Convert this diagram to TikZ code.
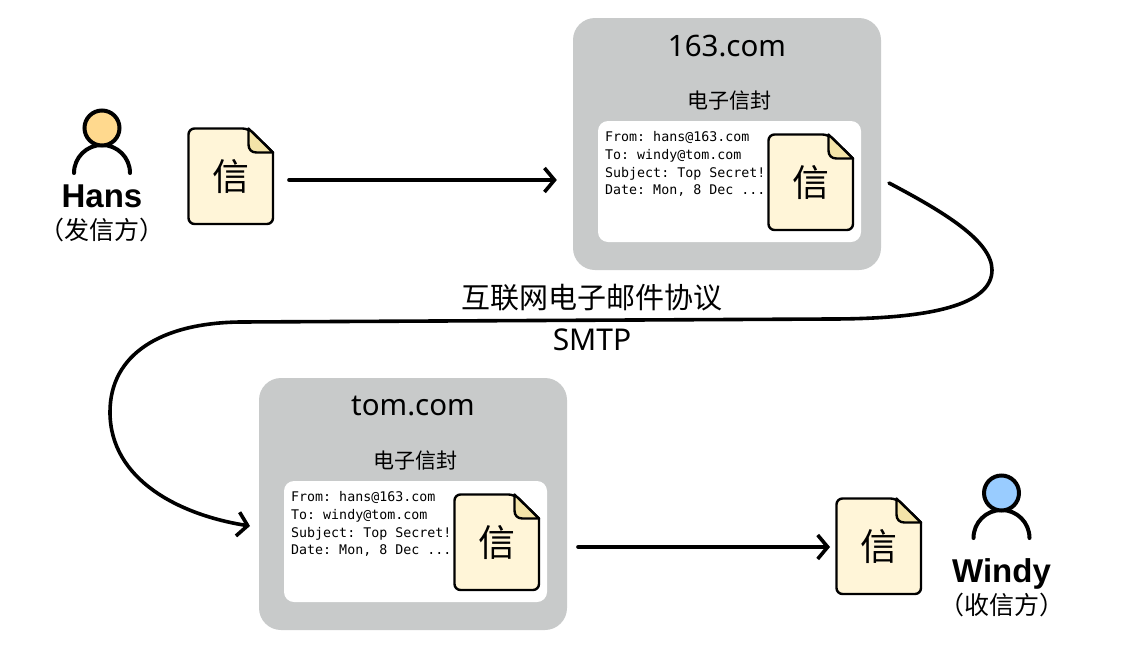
\documentclass[tikz,border=0pt]{standalone}
\usepackage{fontspec}
\setmainfont{Noto Sans}
\setmonofont{DejaVu Sans Mono}
\newfontfamily\cjk{Noto Sans CJK SC}
\newfontfamily\namefont{Liberation Sans}
\usetikzlibrary{arrows.meta}
\definecolor{boxgray}{HTML}{C8CACA}
\definecolor{paper}{HTML}{FFF5D8}
\definecolor{fold}{HTML}{F4E4A8}
\definecolor{headorange}{HTML}{FFD98E}
\definecolor{headblue}{HTML}{99CCFF}
\tikzset{
	flow/.style={line width=3.6pt, line cap=round, line join=round, -{Straight Barb[length=10pt,width=24pt,line width=3.6pt]}},
	outline/.style={line width=2.4pt, line join=round},
	title/.style={font=\fontsize{29.5}{32}\selectfont, inner sep=0pt},
	caption/.style={font=\cjk\fontsize{21}{24}\selectfont, inner sep=0pt},
	who/.style={anchor=base, inner sep=0pt, font=\namefont\bfseries\fontsize{33}{35}\selectfont},
	role/.style={inner sep=0pt, font=\cjk\fontsize{25}{27}\selectfont}
}
\newcommand{\letter}[3] % name, left in px, top in px
{
	% sheet
	\draw[outline, fill=paper, rounded corners=6pt] (#2+0.5,#3+40) -- (#2+0.5,#3+0.5) -- (#2+60.5,#3+0.5) [sharp corners] -- (#2+85,#3+24.5)
		[rounded corners=6pt] -- (#2+85,#3+96) -- (#2+0.5,#3+96) -- cycle;
	% folded corner
	\draw[outline, fill=fold] (#2+60.5,#3+0.5) -- (#2+60.5,#3+16.5)
		.. controls (#2+60.5,#3+21.5) and (#2+63.5,#3+24.5) .. (#2+68.5,#3+24.5) -- (#2+85,#3+24.5) -- cycle;
	\node[inner sep=0pt, font=\cjk\fontsize{37}{39}\selectfont] (#1) at (#2+43,#3+48) {信};
}
\newcommand{\person}[4] % name, x in px, y in px, colour
{
	% shoulders
	\draw[line width=4pt, line cap=round] (#2-28,#3+45) arc[start angle=180, end angle=0, x radius=28, y radius=-28];
	% head
	\node[circle, draw, line width=4pt, fill=#4, minimum size=35pt, inner sep=0pt] (#1) at (#2,#3) {};
}
\newcommand{\mailbox}[4] % name, x in px, y in px, domain
{
	\begin{scope}[shift={(#2,#3)}]
		\node[fill=boxgray, rounded corners=22pt, minimum width=308pt, minimum height=252pt, inner sep=0pt] (#1) at (0,0) {};
		\node[title] (#1title) at (0,-98) {#4};
		\node[caption] (#1cap) at (2,-43.5) {电子信封};
		\node[fill=white, rounded corners=10pt, minimum width=263pt, minimum height=121pt, inner sep=0pt] (#1env) at (2.5,37.5) {};
		\node[anchor=north west, align=left, inner sep=0pt, font=\ttfamily\fontsize{13.3}{17.6}\selectfont] (#1text) at (-122,-12.5)
			{From: hans@163.com\\To: windy@tom.com\\Subject: Top Secret!\\Date: Mon, 8 Dec ...};
		\letter{#1doc}{41}{-10}
	\end{scope}
}

\begin{document}
\begin{tikzpicture}[x=1pt, y=-1pt]
	\useasboundingbox (0,0) rectangle (1124,662);

	% sender
	\person{hans}{102}{128}{headorange}
	\node[who] (hansname) at (102,207) {Hans};
	\node[role] (hansrole) at (102,230) {（发信方）};
	\letter{hansdoc}{188}{128}

	% servers
	\mailbox{neteasy}{727}{144}{163.com}
	\mailbox{tommail}{413}{504}{tom.com}

	% receiver
	\person{windy}{1001.5}{493}{headblue}
	\node[who] (windyname) at (1001.5,582) {Windy};
	\node[role] (windyrole) at (1001.5,605) {（收信方）};
	\letter{windydoc}{836}{498}

	% protocol labels
	\node[inner sep=0pt, font=\cjk\fontsize{29}{31}\selectfont] (protocol) at (592,298) {互联网电子邮件协议};
	\node[inner sep=0pt, font=\fontsize{30}{32}\selectfont] (smtp) at (592,340) {SMTP};

	% connectors
	\draw[flow, shorten <=16pt, shorten >=16pt] ([yshift=-4pt]hansdoc.east -| 273,0) -- ([yshift=-4pt]hansdoc.east -| neteasy.west);
	\coordinate (bendin) at (889,183);
	\coordinate (bendout) at (250,526);
	\draw[flow] (bendin) .. controls (940,210) and (992,240) .. (992,270)
		.. controls (992,305) and (930,319) .. (830,319) -- (240,322)
		.. controls (160,323) and (110,355) .. (110,412)
		.. controls (110,480) and (180,515) .. (bendout);
	\coordinate (lastin) at (578,547);
	\coordinate (lastout) at (830,547);
	\draw[flow] (lastin) -- (lastout);
\end{tikzpicture}
\end{document}
